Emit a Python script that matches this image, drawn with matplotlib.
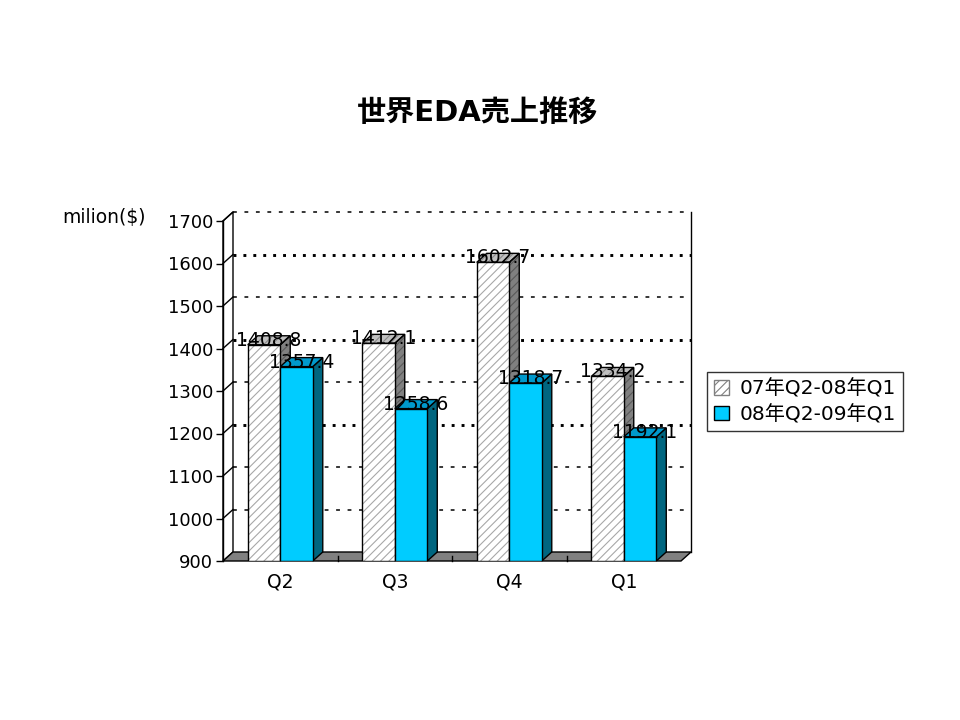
import matplotlib
matplotlib.use("Agg")
import matplotlib.pyplot as plt
from matplotlib.patches import Polygon, Patch
import numpy as np

plt.rcParams['font.family'] = ['DejaVu Sans', 'Noto Sans CJK JP']
plt.rcParams['hatch.linewidth'] = 0.8

title = "世界EDA売上推移"
ylabel = "milion($)"
categories = ["Q2", "Q3", "Q4", "Q1"]
series_names = ["07年Q2-08年Q1", "08年Q2-09年Q1"]
series1 = [1408.8, 1412.1, 1602.7, 1334.2]
series2 = [1357.4, 1258.6, 1318.7, 1192.1]
yticks = [900, 1000, 1100, 1200, 1300, 1400, 1500, 1600, 1700]
bold_grid = [1200, 1400, 1600]

front_colors = ["white", "#00CCFF"]
side_colors = ["#808080", "#006680"]
top_colors = ["#C0C0C0", "#0099CC"]
hatches = ["////", None]
hatch_cols = ["#A8A8A8", None]
side_hatch_cols = ["#5A5A5A", None]
top_hatch_cols = ["#8A8A8A", None]

fig = plt.figure(figsize=(9.6, 7.2), dpi=100)
L, B, W, H = 223/960, 1-561/720, 458/960, 340/720
ax = fig.add_axes([L, B, W, H])
ymin, ymax = 900, 1700
ax.set_xlim(0, len(categories))
ax.set_ylim(ymin, ymax)

# depth offsets in data units (10 px right, 9 px up)
px_x = W*960/len(categories)
px_y = H*720/(ymax-ymin)
dx = 10/px_x
dy = 9/px_y

def poly(pts, **kw):
    p = Polygon(pts, closed=True, clip_on=False, **kw)
    ax.add_patch(p)
    return p

n = len(categories)
# back wall
poly([(dx, ymin+dy), (n+dx, ymin+dy), (n+dx, ymax+dy), (dx, ymax+dy)],
     facecolor="white", edgecolor="none", zorder=0)
# side wall
poly([(0, ymin), (dx, ymin+dy), (dx, ymax+dy), (0, ymax)],
     facecolor="white", edgecolor="black", lw=1, zorder=0.5)
ax.plot([n+dx, n+dx], [ymin+dy, ymax+dy], color="black", lw=1, clip_on=False, zorder=0.6)
# gridlines
for v in yticks[1:]:
    if v in bold_grid:
        ls, lw = (0, (1.0, 2.4)), 2.1
    else:
        ls, lw = (0, (2.5, 5)), 1.1
    ax.plot([dx, n+dx], [v+dy, v+dy], color="black", lw=lw, linestyle=ls,
            clip_on=False, zorder=0.6)
    ax.plot([0, dx], [v, v+dy], color="black", lw=1, clip_on=False, zorder=0.6)
# floor
poly([(0, ymin), (n, ymin), (n+dx, ymin+dy), (dx, ymin+dy)],
     facecolor="#808080", edgecolor="black", lw=1, zorder=0.7)
for k in range(1, n):
    ax.plot([k, k], [ymin, ymin+dy*0.55], color="black", lw=1, clip_on=False, zorder=0.8)

bw = 0.284
x = np.arange(n)
for s, vals in enumerate([series1, series2]):
    lefts = x + 0.5 - bw + s*bw
    z = 2 + s
    # front face
    if hatches[s]:
        ax.bar(lefts, np.array(vals)-ymin, bottom=ymin, width=bw, align='edge',
               color=front_colors[s], edgecolor=hatch_cols[s], hatch=hatches[s], lw=0, zorder=z)
        ax.bar(lefts, np.array(vals)-ymin, bottom=ymin, width=bw, align='edge',
               fill=False, edgecolor="black", lw=1, zorder=z+0.1)
    else:
        ax.bar(lefts, np.array(vals)-ymin, bottom=ymin, width=bw, align='edge',
               color=front_colors[s], edgecolor="black", lw=1, zorder=z)
    for l, v in zip(lefts, vals):
        r = l + bw
        side = [(r, ymin), (r+dx, ymin+dy), (r+dx, v+dy), (r, v)]
        top = [(l, v), (r, v), (r+dx, v+dy), (l+dx, v+dy)]
        if hatches[s]:
            poly(side, facecolor=side_colors[s], edgecolor=side_hatch_cols[s], hatch=hatches[s], lw=0, zorder=z-0.5)
            poly(side, fill=False, edgecolor="black", lw=1, zorder=z-0.4)
            poly(top, facecolor=top_colors[s], edgecolor=top_hatch_cols[s], hatch=hatches[s], lw=0, zorder=z-0.5)
            poly(top, fill=False, edgecolor="black", lw=1, zorder=z-0.4)
        else:
            poly(side, facecolor=side_colors[s], edgecolor="black", lw=1, zorder=z-0.5)
            poly(top, facecolor=top_colors[s], edgecolor="black", lw=1, zorder=z-0.5)
        ax.text(l + bw/2 + dx/2, v + dy/2, f"{v:.1f}", ha="center", va="center",
                fontsize=13.5, zorder=10, clip_on=False)

# axes styling
for sp in ["top", "right", "bottom"]:
    ax.spines[sp].set_visible(False)
ax.spines["left"].set_linewidth(1)
ax.set_facecolor("none")
ax.set_yticks(yticks)
ax.set_yticklabels([str(t) for t in yticks], fontsize=13)
ax.tick_params(axis="y", length=5, width=1, pad=2)
ax.set_xticks(x + 0.5)
ax.set_xticklabels(categories, fontsize=13.5)
ax.tick_params(axis="x", length=0, pad=8)

fig.text(478/960, 1-113/720, title, ha="center", va="center", fontsize=21, fontweight="bold")
fig.text(146/960, 1-217/720, ylabel, ha="right", va="center", fontsize=13.5)

handles = [Patch(facecolor=front_colors[0], edgecolor="#808080", hatch="////", lw=1),
           Patch(facecolor=front_colors[1], edgecolor="black", lw=1)]
leg = fig.legend(handles, series_names, loc="upper left",
                 bbox_to_anchor=(707/960, 1-372/720), borderaxespad=0,
                 fontsize=14.5, frameon=True, fancybox=False, edgecolor="black",
                 handlelength=0.75, handleheight=0.75, handletextpad=0.5,
                 borderpad=0.35, labelspacing=0.3)
leg.get_frame().set_linewidth(1)

fig.savefig("out.png", dpi=100)
